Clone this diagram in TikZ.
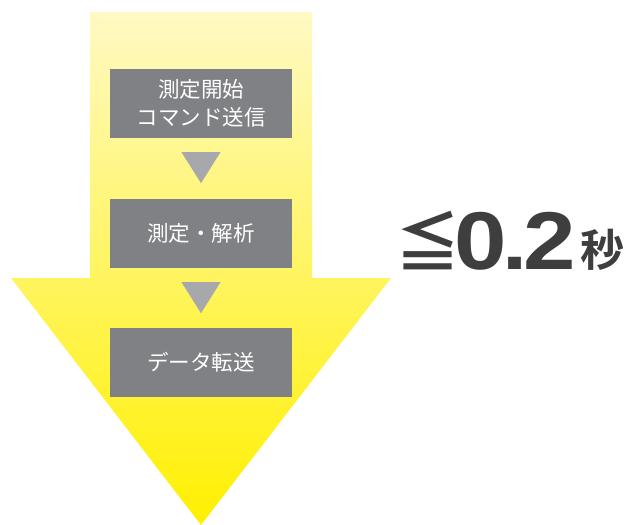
\documentclass[tikz,border=0pt]{standalone}
\usepackage{fontspec}
\newfontfamily\cjk{Noto Sans CJK JP}
\newfontfamily\cjkb{Noto Sans CJK JP Bold}
\newfontfamily\numb{Liberation Sans Bold}
\usetikzlibrary{calc}
\definecolor{boxgray}{RGB}{128,129,133}
\definecolor{trigray}{RGB}{167,168,172}
\definecolor{paleyel}{RGB}{255,249,196}
\definecolor{deepyel}{RGB}{255,240,0}
\definecolor{txtdark}{RGB}{62,62,62}
\tikzset{
  stepbox/.style={fill=boxgray, minimum width=182pt, minimum height=69pt, inner sep=0pt,
    text=white, align=center, font=\cjk\fontsize{21.5}{28.5}\selectfont},
  tri/.style={fill=trigray},
  bigtxt/.style={anchor=base, inner sep=0pt, text=txtdark},
  digit/.style={bigtxt, font=\numb\fontsize{82}{82}\selectfont},
}
\begin{document}
\begin{tikzpicture}[x=1pt,y=-1pt]
\useasboundingbox (0,0) rectangle (627,525);
\shade[top color=paleyel, bottom color=deepyel]
  (90,12) -- (312,12) -- (312,278) -- (391,278) -- (201,525) -- (11,278) -- (90,278) -- cycle;
\node[stepbox] (b1) at (201,103.5) {測定開始\\コマンド送信};
\node[stepbox] (b2) at (201,233.5) {測定・解析};
\node[stepbox] (b3) at (201,362.5) {データ転送};
\fill[tri] ($(b1.south)+(-19.5,14)$) -- ($(b1.south)+(19.5,14)$) -- ($(b1.south)+(0,45)$) -- cycle;
\fill[tri] ($(b2.south)+(-19.5,14)$) -- ($(b2.south)+(19.5,14)$) -- ($(b2.south)+(0,45)$) -- cycle;
\node[bigtxt, font=\cjkb\fontsize{65}{65}\selectfont] (le) at (427.5,266) {≦};
\node[digit] (d0) at (481,269) {\scalebox{1.15}[1]{0}};
\node[digit] (dp) at (515,269) {\scalebox{1.1}[1]{.}};
\node[digit] (d2) at (549.5,269) {\scalebox{1.15}[1]{2}};
\node[bigtxt, font=\cjkb\fontsize{44}{44}\selectfont] (sec) at (602,266) {秒};
\end{tikzpicture}
\end{document}
